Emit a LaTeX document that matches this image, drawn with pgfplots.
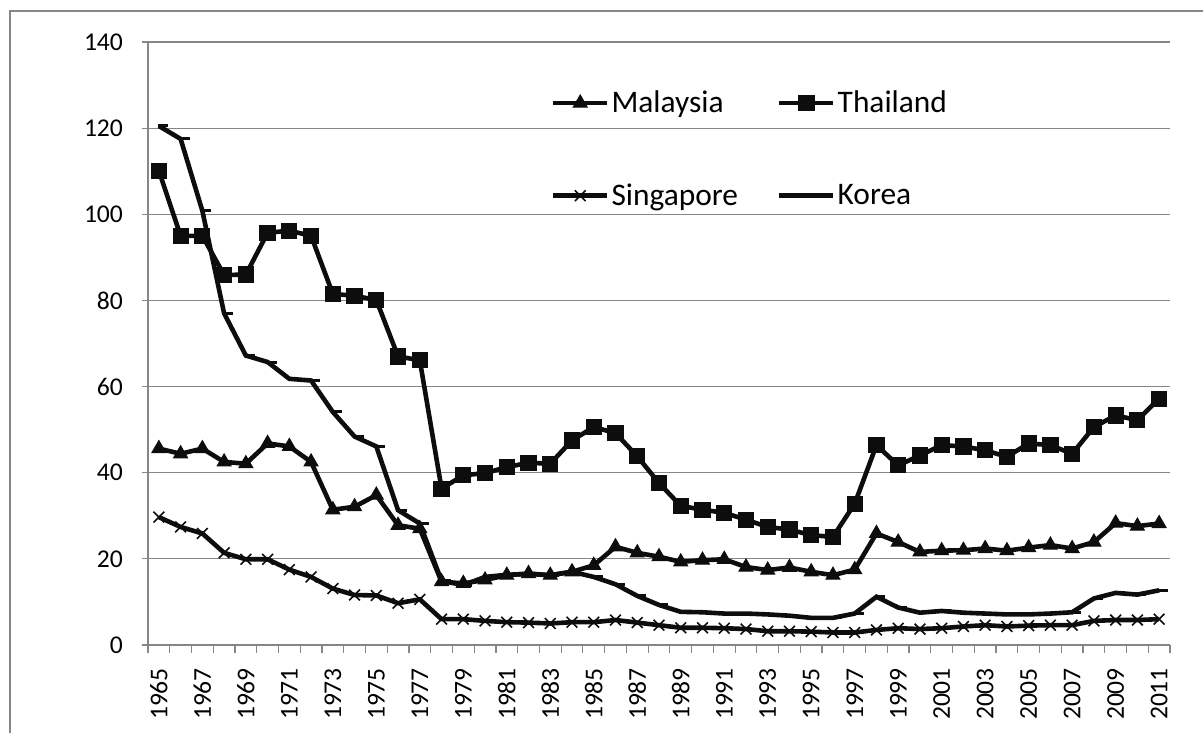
\documentclass[border=0pt]{standalone}
\usepackage{pgfplots}
\pgfplotsset{compat=1.18}
\usepackage{pgfplotstable}
\usepackage{fontspec}
\setmainfont{Carlito}
\definecolor{gridgray}{RGB}{134,134,134}
\definecolor{ink}{RGB}{13,13,13}
\pgfplotstableread{
i mal tha sin kor
0 45.6 110.1 29.7 120.5
1 44.4 95.0 27.4 117.5
2 45.6 95.0 25.9 100.8
3 42.5 85.9 21.4 77.0
4 42.1 86.0 19.9 67.2
5 46.8 95.7 19.9 65.7
6 46.1 96.2 17.5 61.8
7 42.5 95.0 15.8 61.4
8 31.4 81.5 13.1 54.1
9 32.1 81.1 11.6 48.4
10 34.8 80.1 11.5 46.1
11 27.8 67.0 9.7 31.3
12 27.0 66.1 10.6 28.2
13 14.7 36.3 6.0 14.9
14 14.3 39.4 6.0 13.9
15 15.1 39.9 5.6 15.8
16 16.2 41.3 5.3 16.3
17 16.6 42.3 5.2 16.5
18 16.2 42.1 5.0 16.2
19 17.0 47.5 5.3 17.0
20 18.5 50.6 5.3 15.8
21 22.8 49.2 5.8 14.1
22 21.4 43.8 5.2 11.4
23 20.5 37.6 4.6 9.3
24 19.3 32.3 4.0 7.7
25 19.7 31.4 4.0 7.6
26 19.9 30.7 3.9 7.3
27 18.1 29.1 3.7 7.3
28 17.4 27.4 3.2 7.1
29 18.0 26.8 3.2 6.8
30 17.0 25.5 3.1 6.3
31 16.2 25.1 2.9 6.3
32 17.5 32.8 2.9 7.3
33 25.9 46.4 3.5 11.2
34 23.9 41.7 3.9 8.7
35 21.6 44.0 3.7 7.5
36 21.9 46.4 3.9 7.9
37 22.0 46.1 4.3 7.5
38 22.4 45.2 4.6 7.3
39 21.9 43.7 4.3 7.1
40 22.6 46.8 4.5 7.1
41 23.2 46.4 4.6 7.3
42 22.4 44.4 4.6 7.6
43 23.9 50.6 5.6 10.8
44 28.3 53.3 5.8 12.1
45 27.6 52.2 5.8 11.7
46 28.2 57.2 6.0 12.7
}\datatable
\begin{document}
\begin{tikzpicture}
\useasboundingbox (0,0) rectangle (601.5pt,366.5pt);
\draw[gridgray, line width=0.6pt] (5pt,0) -- (5pt,361pt) -- (601.5pt,361pt);
\begin{axis}[
  at={(74pt,44pt)}, anchor=south west,
  scale only axis, width=511pt, height=301.5pt,
  xmin=-0.5, xmax=46.5, ymin=0, ymax=140,
  axis x line*=bottom, axis y line*=left,
  axis line style={gridgray, line width=0.6pt, -},
  xtick={0,2,...,46},
  xticklabels={1965,1967,1969,1971,1973,1975,1977,1979,1981,1983,1985,1987,1989,1991,1993,1995,1997,1999,2001,2003,2005,2007,2009,2011},
  minor xtick={-0.5,0.5,...,46.5},
  major x tick style={draw=none},
  minor x tick style={gridgray, line width=0.6pt},
  xtick align=outside, ytick align=outside,
  minor tick length=4pt, major tick length=3pt,
  ytick={0,20,...,140},
  y tick style={gridgray, line width=0.6pt},
  ymajorgrids, grid style={gridgray, line width=0.6pt},
  x tick label style={rotate=90, anchor=east, font=\fontsize{12.8}{15}\selectfont, xshift=-5pt},
  y tick label style={font=\fontsize{12.8}{15}\selectfont, xshift=-6pt},
  /pgf/number format/assume math mode=true,
  clip=false,
  legend columns=2,
  legend cell align=left,
  legend style={draw=none, fill=none, at={(0.388,0.93)}, anchor=north west,
    font=\fontsize{15.7}{18}\selectfont, row sep=32pt,
    /tikz/every even column/.append style={column sep=18.5pt},
    nodes={inner sep=1pt}},
  legend image code/.code={
    \draw[#1, mark repeat=2, mark phase=2] plot coordinates {(0pt,0pt) (13.5pt,0pt) (27pt,0pt)};},
]
\addplot[ink, line width=2.3pt, mark=triangle*, mark size=4pt, mark options={solid, line width=0.5pt}] table[x=i, y=mal] {\datatable};
\addlegendentry{Malaysia}
\addplot[ink, line width=2.3pt, mark=square*, mark size=3.8pt, mark options={solid, line width=0.5pt}] table[x=i, y=tha] {\datatable};
\addlegendentry{Thailand}
\addplot[ink, line width=2.3pt, mark=x, mark size=3.8pt, mark options={solid, line width=0.8pt}] table[x=i, y=sin] {\datatable};
\addlegendentry{Singapore}
\addplot[ink, line width=2.3pt, mark=-, mark size=2.5pt, mark options={solid, line width=1.5pt, xshift=2pt}] table[x=i, y=kor] {\datatable};
\addlegendentry{Korea}
\end{axis}
\end{tikzpicture}
\end{document}
